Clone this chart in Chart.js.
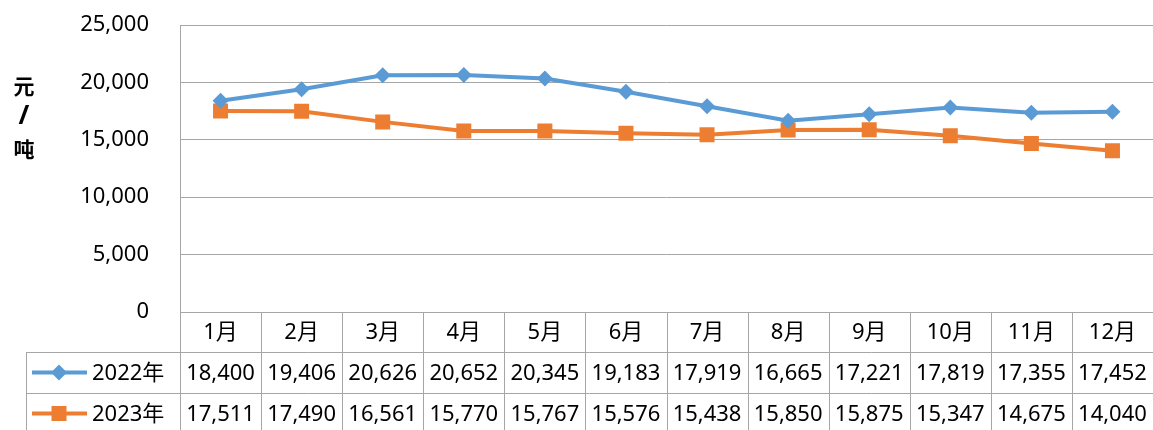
<!DOCTYPE html>
<html>
<head>
<meta charset="utf-8">
<script src="https://cdn.jsdelivr.net/npm/chart.js@4/dist/chart.umd.min.js"></script>
<style>
  html, body { margin: 0; padding: 0; background: #fff; overflow: hidden; }
  #wrap { width: 1153px; height: 430px; position: relative; }
  #lineChart { display: block; }
</style>
</head>
<body>
<div id="wrap"><canvas id="lineChart"></canvas></div>
<script>
// data
const months = ["1月", "2月", "3月", "4月", "5月", "6月", "7月", "8月", "9月", "10月", "11月", "12月"];
const seriesNames = ["2022年", "2023年"];
const values2022 = [18400, 19406, 20626, 20652, 20345, 19183, 17919, 16665, 17221, 17819, 17355, 17452];
const values2023 = [17511, 17490, 16561, 15770, 15767, 15576, 15438, 15850, 15875, 15347, 14675, 14040];
const yTitle = ["元", "/", "吨"];

const blue = "#5b9bd5";
const orange = "#ed7d31";
const gridColor = "#a6a6a6";
const font = "'Noto Sans', 'Noto Sans CJK SC', sans-serif";

const fmt = v => Number(v).toLocaleString("en-US");

function marker(ctx, style, x, y, color) {
    ctx.fillStyle = color;
    ctx.beginPath();
    if (style === "rectRot") {
        const r = 8;
        ctx.moveTo(x, y - r);
        ctx.lineTo(x + r, y);
        ctx.lineTo(x, y + r);
        ctx.lineTo(x - r, y);
    } else {
        const s = 7.5;
        ctx.rect(x - s, y - s, s * 2, s * 2);
    }
    ctx.closePath();
    ctx.fill();
}

// data table under the plot + vertical axis title
const tablePlugin = {
    id: "dataTable",
    afterDraw(chart) {
        const ctx = chart.ctx;
        const xs = chart.scales.x;
        const area = chart.chartArea;
        const colW = (xs.right - xs.left) / months.length;
        const top = area.bottom;
        const rows = [top, top + 40, top + 81, top + 122];
        const legendLeft = 26;

        ctx.save();
        ctx.strokeStyle = gridColor;
        ctx.lineWidth = 1;

        // left border of plot, running through the table
        ctx.beginPath();
        ctx.moveTo(xs.left + 0.5, area.top);
        ctx.lineTo(xs.left + 0.5, chart.height);
        ctx.stroke();

        // horizontal row lines
        ctx.beginPath();
        ctx.moveTo(xs.left, rows[0] + 0.5);
        ctx.lineTo(xs.right, rows[0] + 0.5);
        for (let r = 1; r < rows.length; r++) {
            ctx.moveTo(legendLeft, rows[r] + 0.5);
            ctx.lineTo(xs.right, rows[r] + 0.5);
        }
        // column lines
        for (let i = 1; i < months.length; i++) {
            const x = Math.round(xs.left + i * colW) + 0.5;
            ctx.moveTo(x, rows[0]);
            ctx.lineTo(x, chart.height);
        }
        ctx.moveTo(legendLeft + 0.5, rows[1]);
        ctx.lineTo(legendLeft + 0.5, chart.height);
        ctx.stroke();

        // header + values
        ctx.fillStyle = "#000";
        ctx.font = "22px " + font;
        ctx.textAlign = "center";
        ctx.textBaseline = "middle";
        months.forEach((m, i) => {
            const cx = xs.getPixelForValue(i);
            ctx.fillText(m, cx, (rows[0] + rows[1]) / 2 + 1);
        });
        chart.data.datasets.forEach((ds, d) => {
            const cy = (rows[d + 1] + rows[d + 2]) / 2 + 1;
            ds.data.forEach((v, i) => {
                ctx.fillText(fmt(v), xs.getPixelForValue(i), cy);
            });
            // legend key
            ctx.strokeStyle = ds.borderColor;
            ctx.lineWidth = 4;
            ctx.beginPath();
            ctx.moveTo(32, cy - 1);
            ctx.lineTo(87, cy - 1);
            ctx.stroke();
            marker(ctx, ds.pointStyle, 59, cy - 1, ds.borderColor);
            ctx.fillStyle = "#000";
            ctx.textAlign = "left";
            ctx.fillText(ds.label, 92, cy);
            ctx.textAlign = "center";
        });

        // y title, stacked characters
        ctx.font = "bold 21px 'Noto Sans CJK SC', sans-serif";
        ctx.fillText(yTitle[0], 24, 86);
        ctx.font = "bold 26px 'Noto Sans', sans-serif";
        ctx.fillText(yTitle[1], 24, 117);
        ctx.font = "bold 21px 'Noto Sans CJK SC', sans-serif";
        ctx.fillText(yTitle[2], 24, 149);
        ctx.restore();
    }
};

new Chart(document.getElementById("lineChart"), {
    type: "line",
    data: {
        labels: months,
        datasets: [
            {
                label: seriesNames[0],
                data: values2022,
                borderColor: blue,
                backgroundColor: blue,
                borderWidth: 4,
                pointStyle: "rectRot",
                pointRadius: 8,
                pointBorderWidth: 0,
                tension: 0,
                fill: false
            },
            {
                label: seriesNames[1],
                data: values2023,
                borderColor: orange,
                backgroundColor: orange,
                borderWidth: 4,
                pointStyle: "rect",
                pointRadius: 10.6,
                pointBorderWidth: 0,
                tension: 0,
                fill: false
            }
        ]
    },
    options: {
        responsive: true,
        maintainAspectRatio: false,
        animation: false,
        layout: {
            autoPadding: false,
            padding: { top: 25, bottom: 118, left: 0, right: 0 }
        },
        plugins: {
            legend: { display: false },
            tooltip: { enabled: false }
        },
        scales: {
            x: {
                display: false,
                offset: true
            },
            y: {
                min: 0,
                max: 25000,
                ticks: {
                    stepSize: 5000,
                    padding: 31,
                    color: "#000",
                    font: { family: font, size: 22 },
                    callback: v => fmt(v)
                },
                grid: { color: gridColor, lineWidth: 1, drawTicks: false },
                border: { display: false },
                afterFit: scale => {
                    scale.width = 180;
                    scale.paddingTop = 0;
                    scale.paddingBottom = 0;
                }
            }
        }
    },
    plugins: [tablePlugin]
});
</script>
</body>
</html>
